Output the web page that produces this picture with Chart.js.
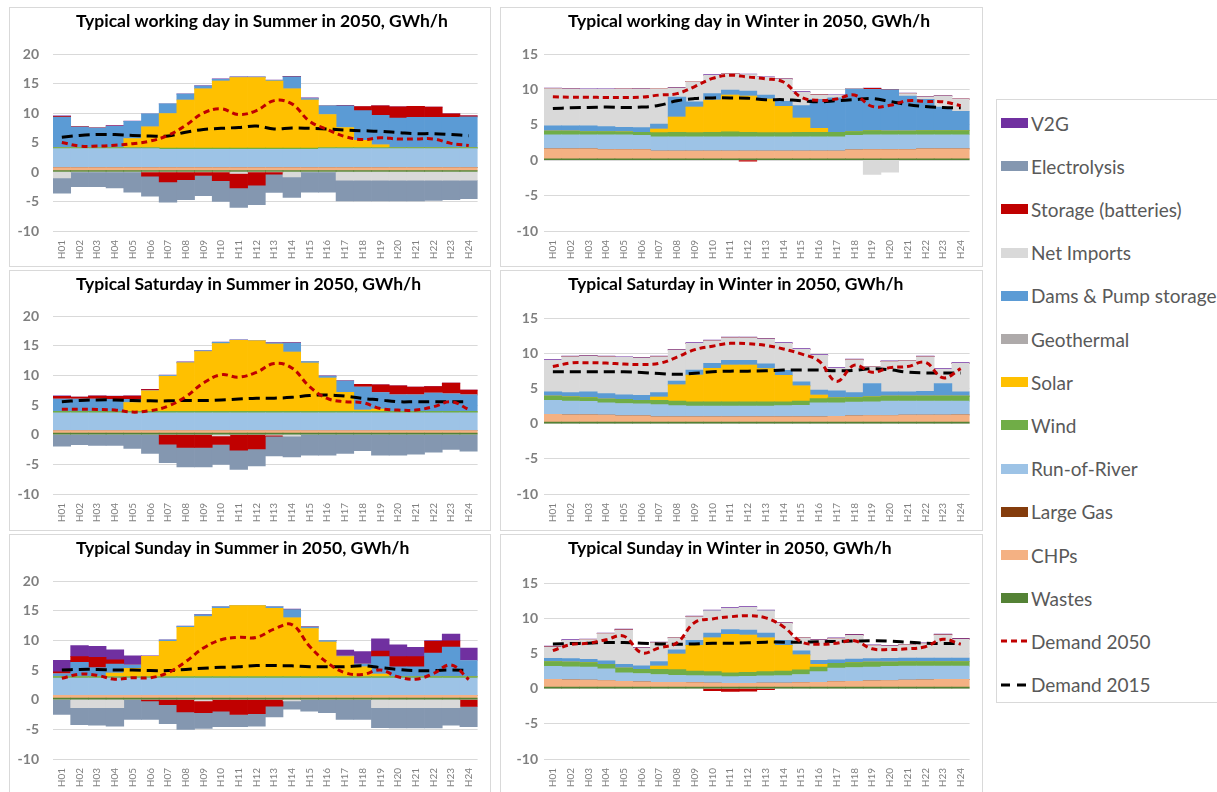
<!DOCTYPE html>
<html>
<head>
<meta charset="utf-8">
<script src="https://cdn.jsdelivr.net/npm/chart.js@4.4.0/dist/chart.umd.min.js"></script>
<style>
  body { margin: 0; background: #fff; width: 1217px; height: 792px; overflow: hidden; position: relative; font-family: Lato, sans-serif; }
  .panel { position: absolute; box-sizing: border-box; border: 1px solid #d9d9d9; background: #fff; overflow: hidden; }
  .panel canvas { display: block; }
  #legend { position: absolute; left: 996px; top: 99px; width: 240px; height: 604px; box-sizing: border-box; border: 1px solid #d9d9d9; }
  .item { position: absolute; left: 4px; height: 20px; display: flex; align-items: center; color: #595959; font-size: 19px; white-space: nowrap; }
  .swatch { width: 27px; height: 10px; margin-right: 3px; }
  .item svg { margin-right: 3px; }
</style>
</head>
<body>
<div id="legend"></div>
<script>
const hours = ['H01','H02','H03','H04','H05','H06','H07','H08','H09','H10','H11','H12',
               'H13','H14','H15','H16','H17','H18','H19','H20','H21','H22','H23','H24'];

// stacking order, bottom to top
const seriesNames = ['Wastes','CHPs','Large Gas','Run-of-River','Wind','Solar','Geothermal',
                     'Dams & Pump storage','Net Imports','Storage (batteries)','Electrolysis','V2G'];
const seriesColors = ['#548235','#f4b183','#843c0c','#9dc3e6','#70ad47','#ffc000','#aeaaaa',
                      '#5b9bd5','#d9d9d9','#c00000','#8497b0','#7030a0'];

const zeros = [0,0,0,0,0,0,0,0,0,0,0,0,0,0,0,0,0,0,0,0,0,0,0,0];

// --- working day, summer ---
const swWastes  = [0.25,0.25,0.25,0.25,0.25,0.25,0.25,0.25,0.25,0.25,0.25,0.25,0.25,0.25,0.25,0.25,0.25,0.25,0.25,0.25,0.25,0.25,0.25,0.25];
const swChp     = [0.5,0.5,0.5,0.5,0.5,0.5,0.5,0.5,0.5,0.5,0.5,0.5,0.5,0.5,0.5,0.5,0.5,0.5,0.5,0.5,0.5,0.5,0.5,0.5];
const swRor     = [3.2,3.2,3.2,3.2,3.2,3.2,3.1,3.1,3.1,3.1,3.1,3.1,3.1,3.1,3.1,3.2,3.2,3.2,3.2,3.2,3.2,3.2,3.2,3.2];
const swWind    = [0.2,0.2,0.2,0.2,0.2,0.2,0.2,0.2,0.2,0.2,0.2,0.2,0.2,0.2,0.2,0.2,0.2,0.2,0.2,0.2,0.2,0.2,0.2,0.2];
const swSolar   = [0,0,0,0,1.5,3.5,5.85,8.15,10.05,11.35,11.95,11.95,11.35,10.05,8.15,5.6,3.4,1.2,0.45,0,0,0,0,0];
const swDams    = [5.15,3.45,3.3,3.6,2.95,2.2,1.65,1.0,0.45,0.3,0.1,0.1,0.15,2.05,0.25,1.45,3.65,5.05,5.0,5.0,5.1,5.1,5.1,5.2];
const swImports = [-1.0,0,0,0,0,0,0,0,0,0,-0.25,0,0,-0.85,0,0,-1.4,-1.4,-1.4,-1.4,-1.4,-1.4,-1.4,-1.4];
const swStorage = [0.15,0.1,0.05,0.05,0,-0.7,-1.7,-1.3,-0.6,-1.45,-2.45,-2.25,-0.35,0,0.05,0,0,0.7,1.6,1.9,1.9,1.75,0.6,0.15];
const swElec    = [-2.6,-2.5,-2.5,-2.7,-3.4,-3.4,-3.4,-3.4,-3.4,-3.55,-3.3,-3.3,-3.1,-3.45,-3.4,-3.4,-3.5,-3.5,-3.5,-3.5,-3.5,-3.4,-3.3,-3.1];
const swV2g     = [0.08,0.05,0,0.05,0.05,0,0,0.05,0.08,0.08,0.05,0.05,0.05,0.08,0.08,0,0.08,0,0,0,0,0,0,0];
const swDem2050 = [5.0,4.4,4.4,4.55,4.8,5.25,6.2,7.9,10.0,10.7,9.75,10.4,12.1,11.55,8.6,7.2,6.0,5.5,5.8,5.6,5.6,5.6,4.85,4.5];
const swDem2015 = [5.9,6.2,6.35,6.35,6.2,6.1,6.1,6.75,7.2,7.4,7.55,7.8,7.3,7.45,7.4,7.3,7.1,7.0,6.9,6.7,6.5,6.5,6.35,6.15];

// --- working day, winter ---
const wwWastes  = [0.2,0.2,0.2,0.2,0.2,0.2,0.2,0.2,0.2,0.2,0.2,0.2,0.2,0.2,0.2,0.2,0.2,0.2,0.2,0.2,0.2,0.2,0.2,0.2];
const wwChp     = [1.4,1.4,1.4,1.3,1.3,1.3,1.1,1.1,1.1,1.1,1.1,1.1,1.1,1.1,1.1,1.1,1.1,1.25,1.3,1.3,1.3,1.4,1.4,1.4];
const wwRor     = [2.0,2.0,2.0,2.1,2.1,2.0,2.0,2.0,2.0,2.0,2.0,2.0,2.0,2.0,2.0,2.0,2.0,2.05,2.1,2.1,2.1,2.0,2.0,2.0];
const wwWind    = [0.5,0.5,0.45,0.45,0.4,0.45,0.6,0.65,0.6,0.65,0.7,0.65,0.6,0.6,0.65,0.65,0.65,0.55,0.6,0.5,0.5,0.6,0.6,0.6];
const wwSolar   = [0,0,0,0,0,0,0.5,2.15,3.6,4.55,5.2,5.1,4.75,3.7,2.0,0.55,0,0,0,0,0,0,0,0];
const wwDams    = [0.75,0.75,0.8,0.7,0.65,0.65,0.7,2.8,0.75,0.9,0.7,0.7,0.55,0.7,1.75,4.1,4.85,6.0,5.8,5.85,4.95,4.4,3.3,2.7];
const wwImports = [5.25,5.2,5.15,5.25,5.35,5.45,5.0,1.3,2.85,2.6,2.3,2.35,2.5,3.15,1.9,0.6,0.35,0.05,-2.0,-1.7,0.35,0.3,1.55,1.7];
const wwStorage = [0,0,0,0,0.05,0,0.05,0,0.05,0,0,-0.15,0,0,0,0.05,0,0,0.15,0,0,0,0,0.05];
const wwV2g     = [0.08,0.08,0.08,0.08,0,0.08,0,0.08,0,0.08,0.08,0.08,0.08,0.08,0.08,0,0.08,0,0.05,0,0.08,0.08,0.08,0];
const wwDem2050 = [8.95,8.9,8.9,8.85,8.85,8.9,9.2,9.4,10.4,11.55,12.0,11.75,11.5,11.05,8.9,8.45,8.65,9.2,7.6,7.75,8.4,8.3,8.25,7.7];
const wwDem2015 = [7.3,7.4,7.45,7.5,7.45,7.5,7.75,8.4,8.7,8.8,8.8,8.75,8.55,8.55,8.4,8.25,8.4,8.55,8.7,8.3,7.85,7.6,7.45,7.4];

// --- Saturday, summer ---
const ssWastes  = [0.25,0.25,0.25,0.25,0.25,0.25,0.25,0.25,0.25,0.25,0.25,0.25,0.25,0.25,0.25,0.25,0.25,0.25,0.25,0.25,0.25,0.25,0.25,0.25];
const ssChp     = [0.45,0.45,0.45,0.45,0.45,0.45,0.45,0.45,0.45,0.45,0.45,0.45,0.45,0.45,0.45,0.45,0.45,0.45,0.45,0.45,0.45,0.45,0.45,0.45];
const ssRor     = [3.0,3.0,3.0,3.0,3.0,3.0,3.0,3.0,3.0,3.0,3.0,3.0,3.0,3.0,3.0,3.0,3.0,3.0,3.0,3.0,3.0,3.0,3.0,3.0];
const ssWind    = [0.25,0.25,0.25,0.25,0.25,0.25,0.25,0.25,0.25,0.25,0.25,0.25,0.25,0.25,0.25,0.25,0.25,0.25,0.25,0.25,0.25,0.25,0.25,0.25];
const ssSolar   = [0,0,0,0,1.45,3.45,5.9,8.15,10.05,11.4,11.95,11.85,11.3,9.95,8.1,5.6,3.2,0.2,0.35,0,0,0,0,0];
const ssDams    = [2.05,2.05,2.05,2.0,0.55,0,0.1,0.1,0.15,0.2,0.05,0,0.2,1.55,0.25,0.3,1.9,3.85,2.8,2.75,2.75,3.05,2.95,2.75];
const ssImports = [0,0,0,0,0,0,0,0,0,-0.2,0,0,-0.1,-0.25,0,0,0,0,0,0,0,0,0,0];
const ssStorage = [0.45,0.35,0.5,0.5,0.55,0.2,-1.6,-2.15,-2.15,-1.45,-2.6,-2.4,-0.15,0,0,0,0,0.5,1.3,1.55,1.3,1.1,1.8,0.8];
const ssElec    = [-1.95,-1.7,-1.8,-1.8,-2.3,-3.15,-3.1,-3.3,-3.3,-3.35,-3.25,-2.85,-3.35,-3.5,-3.45,-3.45,-3.15,-2.7,-3.45,-3.45,-3.3,-2.95,-2.5,-2.8];
const ssV2g     = [0.1,0,0.05,0.05,0.05,0.05,0.08,0.08,0.08,0.05,0.05,0.05,0.05,0.05,0.05,0.05,0.05,0,0,0,0,0,0,0];
const ssDem2050 = [4.3,4.3,4.25,4.15,3.8,4.05,4.8,6.4,8.7,10.1,9.7,10.5,12.0,11.25,8.1,6.1,5.55,5.4,4.4,4.15,4.15,4.7,5.55,4.25];
const ssDem2015 = [5.55,5.75,5.85,5.85,5.75,5.7,5.7,5.75,5.75,5.85,6.0,6.15,6.15,6.3,6.6,6.7,6.5,6.1,5.85,5.55,5.55,5.55,5.55,5.55];

// --- Saturday, winter ---
const wsWastes  = [0.2,0.2,0.2,0.2,0.2,0.2,0.2,0.2,0.2,0.2,0.2,0.2,0.2,0.2,0.2,0.2,0.2,0.2,0.2,0.2,0.2,0.2,0.2,0.2];
const wsChp     = [1.1,1.05,1.05,1.0,0.9,0.9,0.75,0.75,0.75,0.75,0.75,0.75,0.75,0.75,0.75,0.75,0.85,0.9,0.95,0.95,1.0,1.0,1.0,1.05];
const wsRor     = [2.0,1.95,1.9,1.75,1.75,1.7,1.75,1.6,1.55,1.55,1.55,1.55,1.55,1.6,1.65,2.0,1.9,1.95,1.95,2.05,2.0,2.0,2.0,1.95];
const wsWind    = [0.6,0.6,0.55,0.55,0.6,0.5,0.6,0.65,0.6,0.6,0.6,0.6,0.6,0.55,0.6,0.6,0.7,0.65,0.7,0.7,0.7,0.7,0.7,0.7];
const wsSolar   = [0,0,0,0,0,0,0.45,2.3,3.8,4.75,5.2,5.2,4.7,3.75,2.15,0.5,0,0,0,0,0,0,0,0];
const wsDams    = [0.6,0.6,0.8,0.75,0.65,0.7,0.65,0.55,0.7,0.7,0.7,0.7,0.7,0.7,0.6,0.7,1.0,0.7,1.9,0.6,0.6,0.7,1.8,0.6];
const wsImports = [4.5,5.1,5.1,5.25,5.3,5.3,5.1,4.4,3.8,3.2,3.2,3.2,3.5,3.85,4.6,4.95,3.2,4.65,2.35,4.3,4.4,4.9,2.0,4.05];
const wsV2g     = [0.1,0.1,0.1,0.1,0.1,0.1,0.1,0.1,0.1,0.1,0.1,0.1,0.1,0.1,0.1,0.1,0.1,0.1,0.1,0.1,0.1,0.1,0.1,0.1];
const wsDem2050 = [8.1,8.6,8.65,8.6,8.45,8.4,8.55,9.45,10.5,11.0,11.4,11.35,11.1,10.6,9.9,8.9,6.0,8.3,7.3,7.95,8.1,8.7,6.5,7.8];
const wsDem2015 = [7.35,7.35,7.35,7.35,7.35,7.25,7.1,7.0,7.15,7.35,7.45,7.45,7.5,7.6,7.6,7.6,7.5,7.55,7.8,7.65,7.3,7.2,7.2,7.2];

// --- Sunday, summer ---
const suWastes  = [0.25,0.25,0.25,0.25,0.25,0.25,0.25,0.25,0.25,0.25,0.25,0.25,0.25,0.25,0.25,0.25,0.25,0.25,0.25,0.25,0.25,0.25,0.25,0.25];
const suChp     = [0.5,0.5,0.5,0.5,0.5,0.5,0.5,0.5,0.5,0.5,0.5,0.5,0.5,0.5,0.5,0.5,0.5,0.5,0.5,0.5,0.5,0.5,0.5,0.5];
const suRor     = [2.9,2.9,2.9,2.9,2.9,2.9,2.9,2.9,2.9,2.9,2.9,2.9,2.9,2.9,2.9,2.9,2.9,2.9,2.9,2.9,2.9,2.9,2.9,2.9];
const suWind    = [0.25,0.25,0.25,0.25,0.25,0.25,0.25,0.25,0.25,0.25,0.25,0.25,0.25,0.25,0.25,0.25,0.25,0.25,0.25,0.25,0.25,0.25,0.25,0.25];
const suSolar   = [0,0,0,0.6,1.4,3.4,5.95,8.3,10.1,11.5,11.95,11.95,11.5,9.9,8.1,5.8,3.35,1.65,0.4,0,0,0,0,0];
const suDams    = [0.45,2.4,1.5,1.5,0.55,0,0.2,0.15,0.3,0.25,0.05,0.05,0.25,1.4,0.25,0.25,0.1,0.45,2.95,1.65,1.65,3.95,4.95,2.7];
const suImports = [0,-1.35,-1.35,-1.35,0,0,0,0,-0.2,0,0,0,0,-0.2,0,0,0,0,-1.35,-1.35,-1.35,-1.35,-1.35,0];
const suStorage = [0.35,0.95,1.75,0.7,0,-0.2,-0.85,-2.05,-2.0,-1.95,-2.5,-2.35,-1.1,0,0,0,0,0,0.95,1.7,1.7,2.0,1.05,-1.15];
const suElec    = [-2.5,-2.85,-2.95,-3.1,-3.35,-3.15,-3.2,-2.95,-2.65,-2.6,-2.05,-2.1,-1.8,-1.4,-1.95,-2.2,-3.35,-3.35,-3.35,-3.4,-3.4,-3.4,-2.95,-3.4];
const suV2g     = [1.95,1.85,1.85,1.7,1.55,0.1,0.05,0.05,0.05,0.05,0,0,0.05,0.05,0.05,0.05,1.0,2.1,2.05,2.0,1.55,0.1,1.15,2.1];
const suDem2050 = [3.6,4.3,4.1,3.45,3.7,3.7,4.55,6.4,8.7,10.1,10.5,10.5,11.9,12.65,9.0,6.25,4.55,4.25,5.0,3.85,3.45,4.4,5.85,3.4];
const suDem2015 = [5.0,5.1,5.1,5.0,5.0,4.9,4.9,5.1,5.3,5.45,5.55,5.75,5.75,5.7,5.55,5.55,5.55,5.7,5.4,5.1,4.9,4.9,5.0,4.9];

// --- Sunday, winter ---
const wuWastes  = [0.2,0.2,0.2,0.2,0.2,0.2,0.2,0.2,0.2,0.2,0.2,0.2,0.2,0.2,0.2,0.2,0.2,0.2,0.2,0.2,0.2,0.2,0.2,0.2];
const wuChp     = [1.1,1.05,1.0,0.95,0.85,0.75,0.7,0.7,0.65,0.6,0.55,0.55,0.6,0.6,0.65,0.7,0.8,0.85,0.9,0.95,1.0,1.05,1.1,1.1];
const wuRor     = [1.85,1.85,1.85,1.65,1.2,1.2,1.1,1.0,1.0,1.0,0.95,1.0,1.0,1.05,1.15,1.5,1.9,1.95,1.95,2.0,2.0,1.95,1.9,1.9];
const wuWind    = [0.7,0.65,0.65,0.65,0.65,0.6,0.75,0.8,0.65,0.6,0.55,0.55,0.6,0.65,0.65,0.65,0.7,0.7,0.7,0.6,0.65,0.65,0.65,0.65];
const wuSolar   = [0,0,0,0,0,0,0.45,2.2,3.65,4.8,5.45,5.3,4.8,3.65,2.15,0.4,0,0,0,0,0,0,0,0];
const wuDams    = [0.45,0.5,0.45,0.5,0.55,0.5,0.65,0.6,0.7,0.7,0.7,0.7,0.7,0.7,0.55,0.55,0.5,0.5,0.5,0.55,0.5,0.5,0.5,0.5];
const wuImports = [1.6,2.6,2.8,3.85,4.85,2.5,2.65,1.7,3.35,3.15,3.0,3.25,3.15,2.45,1.85,2.9,3.0,3.35,1.85,1.75,1.85,2.05,3.25,2.65];
const wuStorage = [0.05,0,0,0,0.05,0,0,0,0,-0.3,-0.4,-0.35,-0.15,0,0,0,0,0.05,0,0,0,0,0.05,0.05];
const wuV2g     = [0.1,0.1,0.1,0.1,0.1,0.1,0.1,0.1,0.1,0.1,0.1,0.1,0.1,0.1,0.1,0.1,0.1,0.1,0.1,0.1,0.1,0.1,0.1,0.1];
const wuDem2050 = [5.4,6.25,6.45,6.95,7.45,5.1,5.8,6.5,9.4,9.9,10.2,10.35,10.05,8.8,6.65,6.3,6.45,6.8,5.65,5.55,5.65,5.95,7.0,6.3];
const wuDem2015 = [6.35,6.4,6.45,6.55,6.55,6.45,6.35,6.3,6.35,6.45,6.45,6.5,6.6,6.6,6.6,6.65,6.7,6.75,6.8,6.75,6.6,6.45,6.4,6.4];

// panel boxes: outer position, plot top/bottom inside the canvas
const panels = [
  { title: 'Typical working day in Summer in 2050, GWh/h', left: 9, top: 7, w: 482, h: 260, max: 20, plotTop: 46, plotBottom: 223,
    layers: [swWastes, swChp, zeros, swRor, swWind, swSolar, zeros, swDams, swImports, swStorage, swElec, swV2g], d50: swDem2050, d15: swDem2015 },
  { title: 'Typical working day in Winter in 2050, GWh/h', left: 500, top: 7, w: 483, h: 260, max: 15, plotTop: 46, plotBottom: 223,
    layers: [wwWastes, wwChp, zeros, wwRor, wwWind, wwSolar, zeros, wwDams, wwImports, wwStorage, zeros, wwV2g], d50: wwDem2050, d15: wwDem2015 },
  { title: 'Typical Saturday in Summer in 2050, GWh/h', left: 9, top: 270, w: 482, h: 261, max: 20, plotTop: 45, plotBottom: 223,
    layers: [ssWastes, ssChp, zeros, ssRor, ssWind, ssSolar, zeros, ssDams, ssImports, ssStorage, ssElec, ssV2g], d50: ssDem2050, d15: ssDem2015 },
  { title: 'Typical Saturday in Winter in 2050, GWh/h', left: 500, top: 270, w: 483, h: 261, max: 15, plotTop: 47, plotBottom: 223,
    layers: [wsWastes, wsChp, zeros, wsRor, wsWind, wsSolar, zeros, wsDams, wsImports, zeros, zeros, wsV2g], d50: wsDem2050, d15: wsDem2015 },
  { title: 'Typical Sunday in Summer in 2050, GWh/h', left: 9, top: 534, w: 482, h: 261, max: 20, plotTop: 46, plotBottom: 224,
    layers: [suWastes, suChp, zeros, suRor, suWind, suSolar, zeros, suDams, suImports, suStorage, suElec, suV2g], d50: suDem2050, d15: suDem2015 },
  { title: 'Typical Sunday in Winter in 2050, GWh/h', left: 500, top: 534, w: 483, h: 261, max: 15, plotTop: 48, plotBottom: 224,
    layers: [wuWastes, wuChp, zeros, wuRor, wuWind, wuSolar, zeros, wuDams, wuImports, wuStorage, zeros, wuV2g], d50: wuDem2050, d15: wuDem2015 }
];

Chart.defaults.font.family = 'Lato, sans-serif';

// titles sit at a fixed left offset, not centred
const panelTitle = {
  id: 'panelTitle',
  afterDraw(chart, args, opts) {
    const ctx = chart.ctx;
    ctx.save();
    ctx.font = 'bold 17.5px Lato, sans-serif';
    ctx.fillStyle = '#000';
    ctx.textBaseline = 'middle';
    ctx.fillText(opts.text, opts.x, opts.y);
    ctx.restore();
  }
};

panels.forEach(p => {
  const box = document.createElement('div');
  box.className = 'panel';
  Object.assign(box.style, { left: p.left + 'px', top: p.top + 'px', width: p.w + 'px', height: p.h + 'px' });
  const canvas = document.createElement('canvas');
  const cw = p.w - 2, ch = p.h - 2;
  canvas.width = cw; canvas.height = ch;
  canvas.style.width = cw + 'px'; canvas.style.height = ch + 'px';
  box.appendChild(canvas);
  document.body.appendChild(box);

  const bars = seriesNames.map((name, i) => ({
    type: 'bar',
    label: name,
    data: p.layers[i],
    backgroundColor: seriesColors[i],
    borderWidth: 0,
    stack: 'supply',
    order: 1,
    barPercentage: 1,
    categoryPercentage: 1
  }));

  const lines = [
    { type: 'line', label: 'Demand 2050', data: p.d50, borderColor: '#c00000', borderWidth: 3,
      borderDash: [6, 4], pointRadius: 0, tension: 0.4, fill: false, stack: 'd2050', order: 0 },
    { type: 'line', label: 'Demand 2015', data: p.d15, borderColor: '#000000', borderWidth: 3,
      borderDash: [11, 6], pointRadius: 0, tension: 0.4, fill: false, stack: 'd2015', order: 0 }
  ];

  const summer = p.max === 20;

  new Chart(canvas.getContext('2d'), {
    data: { labels: hours, datasets: bars.concat(lines) },
    options: {
      responsive: false,
      devicePixelRatio: 1,
      animation: false,
      layout: { padding: { left: 0, right: summer ? 11 : 12, top: p.plotTop, bottom: 0 } },
      plugins: {
        legend: { display: false },
        tooltip: { enabled: false },
        title: { display: false },
        panelTitle: { text: p.title, x: summer ? 66 : 67, y: 13.5 }
      },
      scales: {
        x: {
          stacked: true,
          grid: { display: false, drawTicks: false },
          border: { display: false },
          ticks: { autoSkip: false, minRotation: 90, maxRotation: 90, padding: 9, color: '#7f7f7f', font: { size: 10 } },
          afterFit: s => { s.height = ch - p.plotBottom; }
        },
        y: {
          stacked: true,
          min: -10,
          max: p.max,
          grid: { color: '#d9d9d9', drawTicks: false },
          border: { display: false },
          ticks: { stepSize: 5, padding: summer ? 14 : 6, color: '#7f7f7f', font: { size: 14, weight: 'bold' } },
          afterFit: s => { s.width = 43; }
        }
      }
    },
    plugins: [panelTitle]
  });
});

// shared legend on the right
const legend = document.getElementById('legend');
const legendRows = seriesNames.map((n, i) => ({ name: n, color: seriesColors[i] })).reverse();
legendRows.push({ name: 'Demand 2050', dash: '6,4', stroke: '#c00000' });
legendRows.push({ name: 'Demand 2015', dash: '9,7', stroke: '#000000' });
legendRows.forEach((r, i) => {
  const el = document.createElement('div');
  el.className = 'item';
  el.style.top = (123 + i * 43.2 - 99 - 11) + 'px';
  if (r.color) {
    el.innerHTML = '<span class="swatch" style="background:' + r.color + '"></span>';
  } else {
    el.innerHTML = '<svg width="27" height="10"><line x1="0" y1="5" x2="27" y2="5" stroke="' + r.stroke +
      '" stroke-width="3" stroke-dasharray="' + r.dash + '"/></svg>';
  }
  const t = document.createElement('span');
  t.textContent = r.name;
  el.appendChild(t);
  legend.appendChild(el);
});
</script>
</body>
</html>
